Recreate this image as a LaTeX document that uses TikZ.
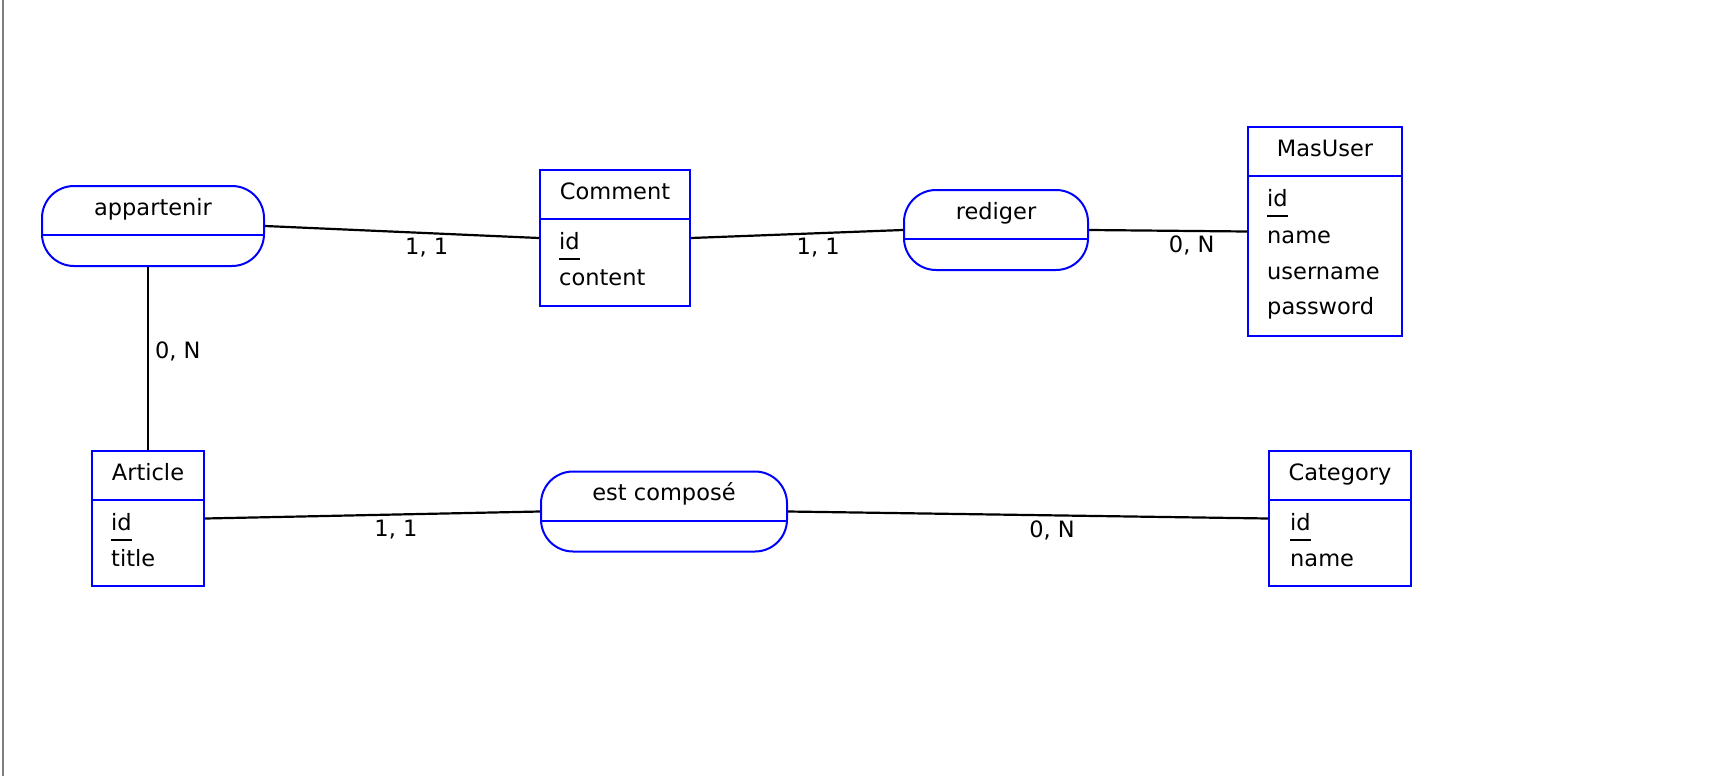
\documentclass[tikz,border=0pt]{standalone}
\usepackage{fontspec}
\setmainfont{DejaVu Sans}
\tikzset{
  entity/.style={draw=blue, line width=2pt, inner sep=0},
  relation/.style={draw=blue, line width=2pt, rounded corners=32pt, minimum height=80pt, inner sep=0},
  split/.style={blue, line width=2pt},
  title/.style={anchor=base, inner sep=0},
  attr/.style={anchor=base west, inner sep=0},
  link/.style={line width=2.2pt},
  card/.style={inner sep=2pt},
}
\begin{document}
\begin{tikzpicture}[x=1pt, y=-1pt, every node/.style={font=\fontsize{22.5}{27}\selectfont}]
  \useasboundingbox (0, 0) rectangle (1736, 776);
  \draw[line width=2.6pt, black!50] (2.8, 0) -- (2.8, 776);

  % entities
  \node[entity, minimum width=150pt, minimum height=136pt] at (615, 238) (comment) {};
  \node[entity, minimum width=154pt, minimum height=209pt] at (1325, 231.5) (masuser) {};
  \node[entity, minimum width=112pt, minimum height=135pt] at (148, 518.5) (article) {};
  \node[entity, minimum width=142pt, minimum height=135pt] at (1340, 518.5) (category) {};

  % relations
  \node[relation, minimum width=222pt] at (153, 226) (appartenir) {};
  \node[relation, minimum width=184pt] at (996, 230) (rediger) {};
  \node[relation, minimum width=246pt] at (664, 511.5) (compose) {};

  \foreach \b in {comment, masuser, article, category, appartenir, rediger, compose}
    \draw[split] ([yshift=-50pt]\b.north west) -- ([yshift=-50pt]\b.north east);

  \node[title] at ([yshift=-30pt]comment.north) (comment-t) {Comment};
  \node[attr] at ([xshift=20pt, yshift=-80pt]comment.north west) (comment-id) {id};
  \node[attr] at ([xshift=20pt, yshift=-116pt]comment.north west) (comment-content) {content};

  \node[title] at ([yshift=-30pt]masuser.north) (masuser-t) {MasUser};
  \node[attr] at ([xshift=20pt, yshift=-80pt]masuser.north west) (masuser-id) {id};
  \node[attr] at ([xshift=20pt, yshift=-117pt]masuser.north west) (masuser-name) {name};
  \node[attr] at ([xshift=20pt, yshift=-153pt]masuser.north west) (masuser-username) {username};
  \node[attr] at ([xshift=20pt, yshift=-188pt]masuser.north west) (masuser-password) {password};

  \node[title] at ([yshift=-30pt]article.north) (article-t) {Article};
  \node[attr] at ([xshift=20pt, yshift=-80pt]article.north west) (article-id) {id};
  \node[attr] at ([xshift=20pt, yshift=-116pt]article.north west) (article-title) {title};

  \node[title] at ([yshift=-30pt]category.north) (category-t) {Category};
  \node[attr] at ([xshift=22pt, yshift=-80pt]category.north west) (category-id) {id};
  \node[attr] at ([xshift=22pt, yshift=-116pt]category.north west) (category-name) {name};

  \node[title] at ([yshift=-30pt]appartenir.north) (appartenir-t) {appartenir};
  \node[title] at ([yshift=-30pt]rediger.north) (rediger-t) {rediger};
  \node[title] at ([yshift=-30pt]compose.north) (compose-t) {est composé};

  % keys
  \foreach \k in {comment-id, masuser-id, article-id, category-id}
    \draw[line width=2pt] ([yshift=-10pt]\k.base west) -- ([yshift=-10pt]\k.base east);

  % links
  \draw[link] (appartenir.east) -- (comment.west) node[card, pos=0.59, below=2pt] {1, 1};
  \draw[link] (comment.east) -- (rediger.west) node[card, pos=0.6, below=2pt] {1, 1};
  \draw[link] (rediger.east) -- (masuser.west) node[card, pos=0.65, below=2pt] {0, N};
  \draw[link] (appartenir.south -| article.north) -- (article.north) node[card, pos=0.46, right=4pt] {0, N};
  \draw[link] (article.east) -- (compose.west) node[card, pos=0.57, below=2pt] {1, 1};
  \draw[link] (compose.east) -- (category.west) node[card, pos=0.55, below=2pt] {0, N};
\end{tikzpicture}
\end{document}
